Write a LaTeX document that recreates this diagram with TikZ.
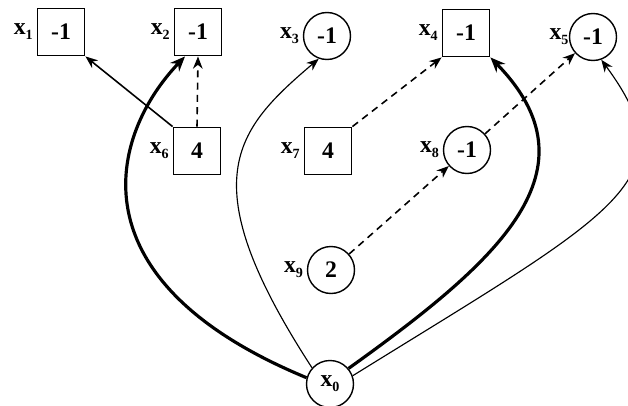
\documentclass[tikz,border=0pt]{standalone}
\usepackage{fontspec}
\setmainfont{Liberation Serif}
\usetikzlibrary{arrows.meta}

\newcommand{\varlab}[1]{x\raisebox{-0.45ex}{\footnotesize #1}}

\begin{document}
\begin{tikzpicture}[
  font=\fontsize{13.5}{16}\selectfont\bfseries,
  >={Stealth[length=7pt,width=5.5pt]},
  sq/.style={
    draw,
    line width=0.8pt,
    minimum size=0.95cm,
    inner sep=0pt,
  },
  rd/.style={
    draw,
    circle,
    line width=0.8pt,
    minimum size=0.94cm,
    inner sep=0pt,
  },
  every label/.style={inner sep=1pt},
  label distance=1pt,
  thin arc/.style={->, line width=0.65pt},
  thick arc/.style={->, line width=1.8pt, >={Stealth[length=8.5pt,width=7pt]}},
  dash arc/.style={->, line width=0.9pt, dash pattern=on 4pt off 3pt},
]

  \clip (0,0) rectangle (12.56,8.1);

  % top row
  \node[sq, label=left:\varlab{1}] (x1) at (1.22,7.46) {-1};
  \node[sq, label=left:\varlab{2}] (x2) at (3.96,7.46) {-1};
  \node[rd, label=left:\varlab{3}] (x3) at (6.54,7.38) {-1};
  \node[sq, label=left:\varlab{4}] (x4) at (9.32,7.44) {-1};
  \node[rd, label={[label distance=-1pt]left:\varlab{5}}] (x5) at (11.86,7.36) {-1};

  % middle row
  \node[sq, label=left:\varlab{6}] (x6) at (3.94,5.08) {4};
  \node[sq, label=left:\varlab{7}] (x7) at (6.56,5.08) {4};
  \node[rd, label=left:\varlab{8}] (x8) at (9.34,5.10) {-1};
  \node[rd, label=left:\varlab{9}] (x9) at (6.62,2.70) {2};

  % root
  \node[rd] (x0) at (6.60,0.42) {\varlab{0}};

  \draw[->, line width=0.9pt] (x6.north west) -- (x1.south east);
  \draw[dash arc] (x6.north) -- (x2.south);
  \draw[dash arc] (x7.north east) -- (x4.south west);
  \draw[dash arc] (x8) -- (x5);
  \draw[dash arc] (x9) -- (x8);

  \draw[thick arc] (x0.165) .. controls (1.40,2.50) and (2.20,5.40)
    .. ([xshift=-2.6mm] x2.south);
  \draw[thin arc] (x0.138) .. controls (3.80,4.50) and (4.70,5.50)
    .. (x3.250);
  \draw[thick arc] (x0.40) .. controls (10.00,2.90) and (12.00,4.70)
    .. (x4.south east);
  \draw[thin arc] (x0.20) .. controls (12.40,3.90) and (13.80,4.50)
    .. (x5.290);

\end{tikzpicture}
\end{document}
